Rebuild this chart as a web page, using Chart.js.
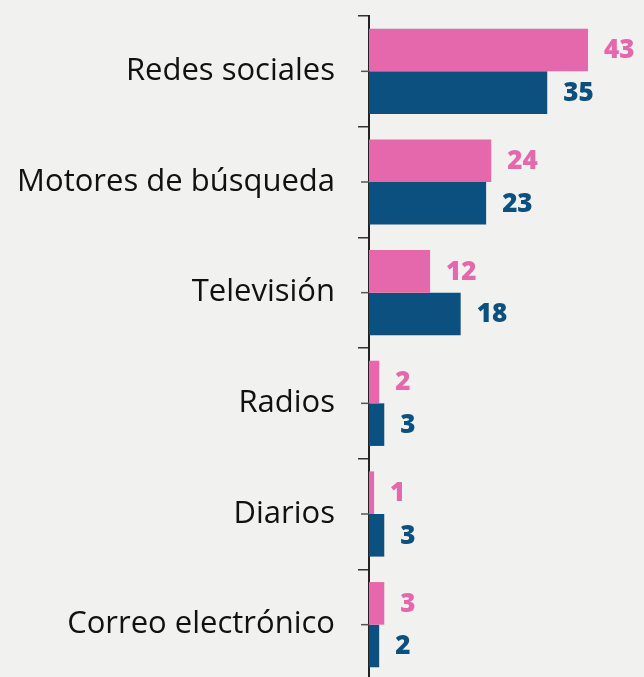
<!DOCTYPE html>
<html>
<head>
<meta charset="utf-8">
<script src="https://cdn.jsdelivr.net/npm/chart.js@4/dist/chart.umd.min.js"></script>
<style>
  html, body { margin: 0; padding: 0; background: #f1f1ef; overflow: hidden; }
  canvas { display: block; }
</style>
</head>
<body>
<canvas id="mediosChart" width="644" height="680"></canvas>
<script>
// categories and values
var categorias = ['Redes sociales', 'Motores de búsqueda', 'Televisión', 'Radios', 'Diarios', 'Correo electrónico'];
var serieRosa = [43, 24, 12, 2, 1, 3];
var serieAzul = [35, 23, 18, 3, 3, 2];

var ROSA = '#e468ab';
var AZUL = '#0c5080';

// value labels at the end of each bar
var etiquetas = {
  id: 'etiquetas',
  afterDatasetsDraw: function(chart) {
    var ctx = chart.ctx;
    ctx.save();
    ctx.font = '800 26px "Open Sans", sans-serif';
    ctx.textBaseline = 'middle';
    ctx.textAlign = 'left';
    chart.data.datasets.forEach(function(ds, i) {
      var meta = chart.getDatasetMeta(i);
      ctx.fillStyle = ds.backgroundColor;
      meta.data.forEach(function(bar, j) {
        ctx.fillText(ds.data[j], bar.x + 16, bar.y + 1);
      });
    });
    ctx.restore();
  }
};

// short ticks at the middle of each category
var marcasCentro = {
  id: 'marcasCentro',
  afterDraw: function(chart) {
    var y = chart.scales.y;
    var ctx = chart.ctx;
    ctx.save();
    ctx.strokeStyle = '#555';
    ctx.lineWidth = 1.5;
    categorias.forEach(function(c, i) {
      var py = y.getPixelForValue(i);
      ctx.beginPath();
      ctx.moveTo(y.right - 8, py);
      ctx.lineTo(y.right, py);
      ctx.stroke();
    });
    ctx.restore();
  }
};

new Chart(document.getElementById('mediosChart'), {
  type: 'bar',
  data: {
    labels: categorias,
    datasets: [
      { data: serieRosa, backgroundColor: ROSA, categoryPercentage: 0.77, barPercentage: 1 },
      { data: serieAzul, backgroundColor: AZUL, categoryPercentage: 0.77, barPercentage: 1 }
    ]
  },
  options: {
    indexAxis: 'y',
    responsive: false,
    animation: false,
    events: [],
    layout: { autoPadding: false, padding: { top: 16, right: 0, bottom: 0, left: 0 } },
    plugins: { legend: { display: false }, tooltip: { enabled: false } },
    scales: {
      x: { display: false, min: 0, max: 54 },
      y: {
        afterFit: function(scale) {
          scale.width = 369;
          scale.paddingTop = 0;
          scale.paddingBottom = 0;
        },
        border: { display: true, color: '#222', width: 2 },
        grid: { display: true, offset: true, drawOnChartArea: false, tickLength: 11, color: '#333', lineWidth: 1.5 },
        ticks: { color: '#111', padding: 23, font: { family: '"Open Sans", sans-serif', size: 31 } }
      }
    }
  },
  plugins: [etiquetas, marcasCentro]
});
</script>
</body>
</html>
